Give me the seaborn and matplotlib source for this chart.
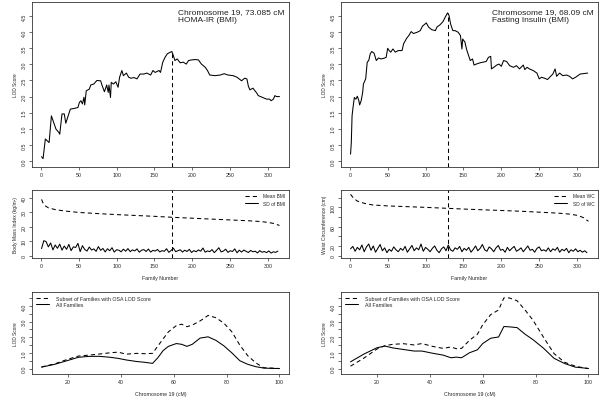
import numpy as np
import seaborn as sns
import matplotlib
matplotlib.use("Agg")
import matplotlib.pyplot as plt

# LOD score along family number (top panels)
fam_homa = [1, 3, 6, 11, 14, 20, 24, 25, 28, 31, 33, 39, 44, 49, 51, 53, 55, 57, 58, 60,
            64, 66, 70, 74, 79, 81, 84, 87, 89, 90, 92, 93, 96, 99, 102, 104, 107, 109, 113, 116,
            119, 123, 127, 131, 136, 140, 145, 148, 151, 156, 158, 161, 164, 167, 171, 173, 175, 177, 180, 184,
            188, 192, 195, 199, 204, 208, 212, 217, 220, 223, 230, 237, 242, 247, 254, 259, 265, 269, 272, 274,
            276, 280, 285, 287, 293, 298, 302, 304, 307, 309, 311, 315]
lod_homa = [0.13, 0.07, 0.68, 0.57, 1.40, 0.99, 0.88, 0.83, 1.46, 1.46, 1.17, 1.61, 1.63, 1.66, 1.82, 1.87, 1.77, 1.98, 1.74, 2.18,
            2.23, 2.36, 2.39, 2.50, 2.49, 2.34, 2.15, 2.36, 2.13, 2.36, 1.97, 2.44, 2.39, 2.46, 2.29, 2.60, 2.81, 2.65, 2.73, 2.60,
            2.57, 2.59, 2.55, 2.70, 2.70, 2.73, 2.67, 2.81, 2.75, 2.81, 2.75, 3.07, 3.22, 3.33, 3.38, 3.40, 3.27, 3.12, 3.17, 3.05,
            3.07, 3.01, 3.12, 3.14, 3.15, 3.14, 3.01, 2.91, 2.81, 2.67, 2.65, 2.67, 2.71, 2.67, 2.65, 2.60, 2.49, 2.57, 2.55, 2.32,
            2.21, 2.26, 2.11, 2.03, 1.97, 1.92, 1.92, 1.87, 1.92, 2.03, 2.00, 2.00]

fam_fi = [1, 2, 3, 4, 6, 8, 10, 12, 13, 15, 17, 18, 21, 23, 25, 27, 29, 32, 35, 38,
          41, 45, 48, 50, 52, 54, 57, 60, 64, 69, 71, 75, 78, 81, 84, 89, 93, 96, 101, 104,
          108, 113, 115, 119, 123, 126, 129, 131, 133, 136, 139, 143, 146, 148, 149, 152, 154, 156, 159, 162,
          164, 167, 172, 176, 180, 183, 186, 187, 190, 194, 197, 200, 203, 207, 211, 216, 220, 224, 229, 231,
          234, 237, 242, 247, 250, 253, 257, 261, 265, 268, 271, 273, 277, 281, 286, 290, 294, 298, 301, 304, 314]
lod_fi = [0.21, 0.57, 1.40, 1.61, 1.97, 1.92, 2.01, 1.87, 1.74, 1.87, 2.13, 2.39, 2.55, 3.07, 3.12, 3.33, 3.40, 3.35, 3.12, 3.20,
          3.17, 3.19, 3.22, 3.50, 3.43, 3.38, 3.48, 3.38, 3.43, 3.43, 3.64, 3.81, 3.90, 4.02, 3.96, 4.00, 4.05, 4.19, 4.29, 4.16,
          4.08, 4.05, 4.16, 4.23, 4.33, 4.47, 4.60, 4.52, 4.26, 4.05, 4.05, 4.00, 3.90, 3.48, 3.79, 3.69, 3.48, 3.33, 3.12, 3.17,
          2.98, 3.01, 3.05, 3.07, 3.09, 3.22, 3.25, 2.86, 2.91, 2.98, 3.01, 2.94, 3.12, 3.09, 2.96, 2.91, 2.96, 2.86, 2.98, 2.84,
          2.91, 2.86, 2.81, 2.73, 2.55, 2.60, 2.57, 2.53, 2.63, 2.70, 2.86, 2.63, 2.73, 2.65, 2.67, 2.63, 2.55, 2.60, 2.65, 2.70, 2.73]

# family means / SDs (middle panels)
fam_mean_bmi = [1, 3, 6, 10, 20, 35, 50, 75, 100, 125, 150, 175, 200, 225, 250, 275, 290, 300, 308, 315]
mean_bmi = [39.0, 36.5, 34.5, 33.2, 31.8, 30.8, 30.0, 29.2, 28.5, 27.9, 27.3, 26.6, 26.0, 25.4, 24.8, 24.2, 23.7, 23.1, 22.3, 21.0]
fam_mean_wc = [1, 5, 10, 20, 30, 50, 75, 100, 129, 150, 175, 200, 225, 250, 275, 290, 300, 308, 315]
mean_wc = [127, 119, 113, 108, 105, 103, 101.5, 100, 98, 96.5, 95, 93.5, 92, 90, 88, 86, 83.5, 79, 71]

sd_bmi = [5.0, 10.5, 9.8, 6.2, 8.9, 4.1, 7.5, 5.2, 8.1, 3.9, 6.8, 4.5, 7.9, 3.6, 6.2, 5.8, 8.6, 2.9, 7.0, 4.4,
          3.3, 6.1, 4.0, 4.8, 3.1, 6.4, 3.8, 5.1, 2.7, 4.9, 3.5, 5.6, 2.6, 4.2, 3.9, 2.8, 4.6, 3.2, 5.0, 2.9,
          4.1, 3.4, 4.8, 2.5, 3.9, 4.3, 3.0, 4.7, 2.6, 3.8, 3.3, 4.4, 2.7, 3.6, 3.1, 4.9, 2.4, 3.7, 5.3, 2.9,
          3.5, 4.2, 2.6, 3.9, 3.0, 4.5, 2.3, 3.6, 2.8, 4.1, 3.2, 5.4, 2.5, 3.4, 2.9, 4.3, 2.2, 3.8, 5.6, 2.7,
          3.3, 4.6, 2.4, 3.5, 3.0, 4.8, 2.1, 3.9, 2.6, 4.0, 3.1, 2.3, 3.7, 2.8, 3.2, 2.0, 3.6, 2.5, 3.0, 2.2,
          3.4, 1.9, 2.8, 2.4, 3.3]
sd_wc = [14, 19, 9, 17, 12, 22, 8, 18, 24, 11, 20, 7, 15, 23, 10, 16, 6, 13, 9, 18,
         12, 8, 15, 11, 19, 7, 14, 21, 10, 16, 12, 24, 9, 17, 13, 8, 15, 20, 11, 6,
         14, 18, 10, 22, 12, 9, 16, 13, 19, 8, 15, 11, 17, 7, 13, 20, 10, 15, 23, 12,
         9, 18, 14, 8, 16, 21, 11, 13, 7, 17, 10, 15, 19, 9, 12, 16, 8, 14, 20, 11,
         13, 7, 15, 18, 10, 12, 9, 16, 8, 14, 11, 17, 7, 13, 10, 15, 6, 12, 9, 14,
         8, 11, 7, 10, 6]
fam_sd = list(range(1, 3 * len(sd_bmi), 3))

# LOD along chromosome 19 (bottom panels)
cm_left = [10, 15, 20, 24, 28, 32, 36, 39, 42, 46, 49, 52, 54, 56, 58, 61, 63, 65, 67, 70, 73, 76, 79, 82, 85, 88, 91, 94, 97, 100]
all_left = [0.09, 0.27, 0.52, 0.72, 0.78, 0.78, 0.72, 0.65, 0.55, 0.45, 0.40, 0.33, 0.69, 1.15, 1.42, 1.60, 1.55, 1.42, 1.55, 1.95,
            2.03, 1.80, 1.45, 1.00, 0.50, 0.27, 0.12, 0.03, 0.01, 0.0]
sub_left = [0.10, 0.30, 0.60, 0.80, 0.86, 0.93, 1.01, 1.05, 0.92, 0.97, 0.95, 0.97, 1.44, 1.90, 2.35, 2.75, 2.84, 2.68, 2.78, 3.05,
            3.40, 3.25, 2.90, 2.35, 1.50, 0.82, 0.37, 0.05, 0.03, 0.0]
cm_right = [10, 15, 20, 23, 26, 30, 34, 37, 41, 45, 48, 50, 52, 55, 58, 60, 63, 66, 68, 70, 73, 76, 79, 83, 87, 91, 95, 98, 100]
all_right = [0.43, 0.92, 1.33, 1.44, 1.32, 1.22, 1.12, 1.12, 0.98, 0.86, 0.69, 0.73, 0.69, 1.01, 1.20, 1.60, 1.94, 2.02, 2.69, 2.67,
             2.62, 2.20, 1.85, 1.30, 0.65, 0.32, 0.09, 0.04, 0.0]
sub_right = [0.15, 0.66, 1.25, 1.46, 1.55, 1.59, 1.51, 1.60, 1.42, 1.29, 1.38, 1.27, 1.29, 1.81, 2.20, 2.80, 3.45, 3.75, 4.52, 4.52,
             4.34, 3.75, 3.10, 2.00, 0.95, 0.40, 0.15, 0.05, 0.0]

sns.set_style("ticks")
plt.rcParams["font.family"] = ["Liberation Sans", "DejaVu Sans"]

fig = plt.figure(figsize=(6.02, 4.02), dpi=100)
W, H = 602, 402


def add_ax(l, t, r, b):
    return fig.add_axes([l / W, 1 - b / H, (r - l) / W, (b - t) / H])


ax_tl = add_ax(32, 3, 289, 168)
ax_tr = add_ax(341, 3, 598, 168)
ax_ml = add_ax(32, 191, 289, 259)
ax_mr = add_ax(341, 191, 598, 259)
ax_bl = add_ax(32, 293, 289, 375)
ax_br = add_ax(341, 293, 598, 375)

lw = 0.75
dash = (4, 3)


def style(ax):
    for s in ax.spines.values():
        s.set_linewidth(0.6)
        s.set_color("#333333")
    ax.tick_params(length=2.2, width=0.5, labelsize=3.8, pad=1.5, color="#333333")
    ax.tick_params(axis="y", labelrotation=90)
    for t in ax.get_yticklabels():
        t.set_va("center")


# top panels
for ax, fam, lod, txt in [(ax_tl, fam_homa, lod_homa, "Chromosome 19, 73.085 cM\nHOMA-IR (BMI)"),
                          (ax_tr, fam_fi, lod_fi, "Chromosome 19, 68.09 cM\nFasting Insulin (BMI)")]:
    sns.lineplot(x=fam, y=lod, ax=ax, color="black", linewidth=lw, errorbar=None)
    ax.set_xlim(-11.6, 327.6)
    ax.set_ylim(-0.19, 4.94)
    ax.set_xticks([0, 50, 100, 150, 200, 250, 300])
    ax.set_yticks(np.arange(0, 4.6, 0.5))
    ax.set_yticklabels([f"{v:.1f}" for v in np.arange(0, 4.6, 0.5)])
    i = int(np.argmax(lod))
    ax.vlines(fam[i], -0.19, lod[i], colors="black", linestyles=(0, dash), linewidth=lw)
    ax.set_ylabel("LOD Score", fontsize=3.4, labelpad=3)
    ax.text(0.982, 0.965, txt, transform=ax.transAxes, fontsize=6.0, va="top", ha="right",
            multialignment="left", linespacing=1.15, color="#222222")
    style(ax)

peak_homa = fam_homa[int(np.argmax(lod_homa))]
peak_fi = fam_fi[int(np.argmax(lod_fi))]

# middle panels
for ax, fam_m, mean, sd, peak, name, ylab in [
        (ax_ml, fam_mean_bmi, mean_bmi, sd_bmi, peak_homa, "BMI", "Body Mass Index (kg/m²)"),
        (ax_mr, fam_mean_wc, mean_wc, sd_wc, peak_fi, "WC", "Waist Circumference (cm)")]:
    sns.lineplot(x=fam_m, y=mean, ax=ax, color="black", linewidth=lw, linestyle=(0, dash),
                 errorbar=None, label="Mean " + name)
    sns.lineplot(x=fam_sd, y=sd, ax=ax, color="black", linewidth=lw, errorbar=None, label="SD of " + name)
    ax.axvline(peak, color="black", linestyle=(0, dash), linewidth=lw)
    ax.set_xlim(-11.6, 327.6)
    ax.set_xticks([0, 50, 100, 150, 200, 250, 300])
    ax.set_xlabel("Family Number", fontsize=3.8, labelpad=5)
    ax.set_ylabel(ylab, fontsize=3.6, labelpad=3)
    ax.legend(loc="upper right", frameon=False, fontsize=3.5, handlelength=2.6, handletextpad=1.2,
              borderaxespad=0.3, labelspacing=0.45)

ax_ml.set_ylim(-1.5, 45.5)
ax_ml.set_yticks([0, 10, 20, 30, 40])
ax_mr.set_ylim(-5, 136)
ax_mr.set_yticks([0, 20, 40, 60, 80, 100, 120])
ax_mr.set_yticklabels(["0", "20", "", "60", "", "100", ""])
style(ax_ml)
style(ax_mr)

# bottom panels
for ax, cm, sub, al in [(ax_bl, cm_left, sub_left, all_left), (ax_br, cm_right, sub_right, all_right)]:
    sns.lineplot(x=cm, y=sub, ax=ax, color="black", linewidth=lw, linestyle=(0, dash),
                 errorbar=None, label="Subset of Families with OSA LOD Score")
    sns.lineplot(x=cm, y=al, ax=ax, color="black", linewidth=lw, errorbar=None, label="All Families")
    ax.set_xlim(6.4, 103.6)
    ax.set_ylim(-0.35, 4.9)
    ax.set_xticks([20, 40, 60, 80, 100])
    ax.set_yticks(np.arange(0, 4.6, 0.5))
    ax.set_yticklabels(["0.0", "", "1.0", "", "2.0", "", "3.0", "", "4.0", ""])
    ax.set_xlabel("Chromosome 19 (cM)", fontsize=3.8, labelpad=5)
    ax.set_ylabel("LOD Score", fontsize=3.4, labelpad=3)
    ax.legend(loc="upper left", frameon=False, fontsize=3.8, handlelength=2.6, handletextpad=1.2,
              borderaxespad=0.3, labelspacing=0.3)
    style(ax)

fig.savefig("out.png", dpi=100)
